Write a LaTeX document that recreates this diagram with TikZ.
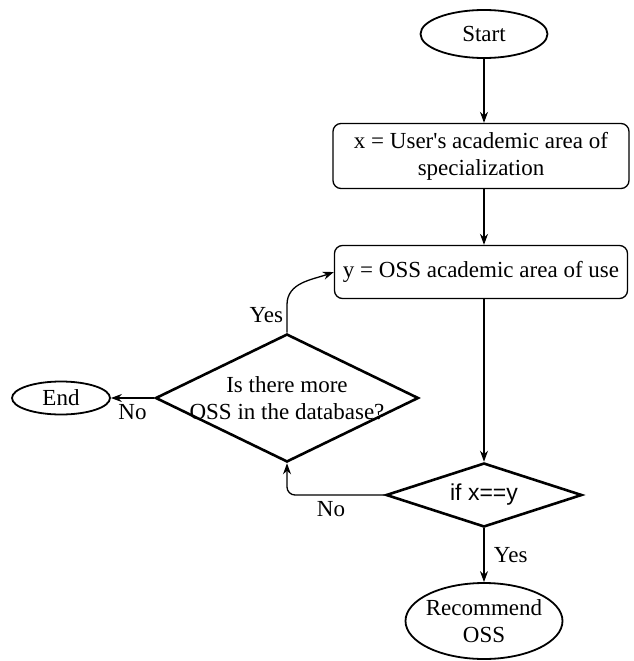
\documentclass[tikz,border=0pt]{standalone}
\usepackage{fontspec}
\setmainfont{Liberation Serif}
\newfontfamily\arialfont{Liberation Sans}
\usetikzlibrary{shapes.geometric, arrows.meta}

\tikzset{
    chart/.style={font=\fontsize{23}{27}\selectfont},
    terminal/.style={draw, ellipse, line width=1.8pt, inner sep=0pt},
    process/.style={draw, rectangle, rounded corners=8pt, line width=1.3pt, align=center, inner sep=0pt},
    decision/.style={draw, diamond, line width=2.6pt, inner sep=0pt},
    flow/.style={-{Stealth[length=11pt, width=8pt]}, line width=1.3pt}
}

\begin{document}
\begin{tikzpicture}[x=1pt, y=1pt, chart]
    % Fix the page to the size of the reference
    \useasboundingbox (0,0) rectangle (633,-661);

    % Define the nodes of the chart
    \node[terminal, minimum width=127pt, minimum height=48pt] (start) at (484,-34) {Start};
    \node[process, minimum width=296pt, minimum height=65pt] (user) at (481,-156) {x = User\textquotesingle s academic area of\\specialization};
    \node[process, minimum width=293pt, minimum height=53pt] (oss) at (481,-272) {y = OSS academic area of use};
    \node[decision, minimum width=196pt, minimum height=64pt] (ifxy) at (484,-495) {};
    \node[font=\arialfont\fontsize{23}{27}\selectfont] (ifxytext) at (ifxy) {if x==y};
    \node[decision, minimum width=263pt, minimum height=128pt] (more) at (287,-398) {};
    \node[align=center] (moretext) at (287,-398) {Is there more\\OSS in the database?};
    \node[terminal, minimum width=98pt, minimum height=33pt] (end) at (61,-398) {End};
    \node[terminal, minimum width=157pt, minimum height=76pt] (rec) at (484,-621) {};
    \node[align=center] (rectext) at (rec) {Recommend\\OSS};

    % Draw the connectors
    \draw[flow] (start.south) -- (start.south |- user.north);
    \draw[flow] (user.south -| start) -- (start |- oss.north);
    \draw[flow] (oss.south -| ifxy) -- (ifxy);
    \draw[flow] (ifxy) -- (rec) node[midway, right, xshift=6pt] {Yes}; % match found
    \draw[flow, rounded corners=8pt] (ifxy.west) -- (more.south |- ifxy.west) node[pos=0.55, below, yshift=-2pt] {No} -- (more.south); % no match
    \draw[flow] (more.north) -- ++(0,28) node[midway, left, yshift=4pt] {Yes} to[out=90, in=200] (oss.west); % next OSS
    \draw[flow] (more.west) -- (end.east) node[midway, below, yshift=-2pt] {No}; % database done
\end{tikzpicture}
\end{document}
